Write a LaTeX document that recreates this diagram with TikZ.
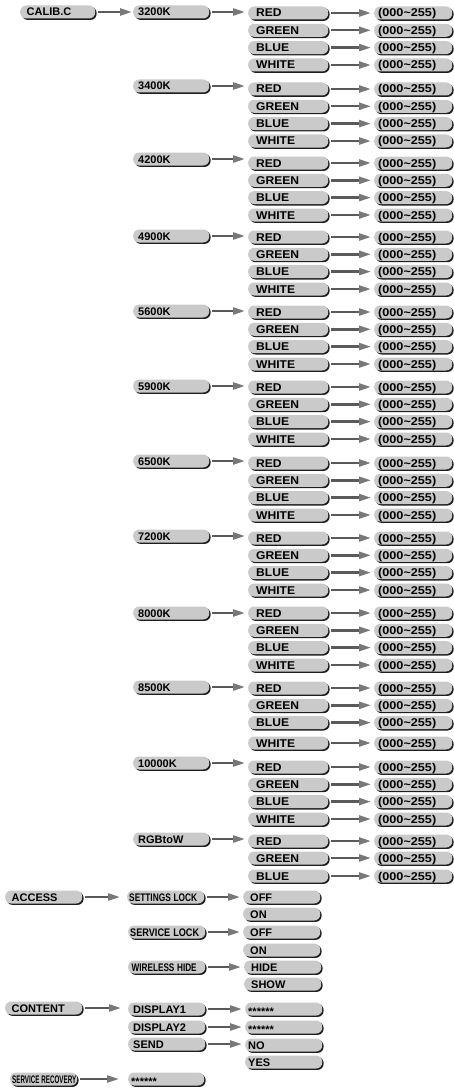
\documentclass[tikz,border=0pt]{standalone}
\usepackage{fontspec}
\usepackage{graphicx}
\usetikzlibrary{shadows,arrows.meta}
\newfontfamily\tfont{Liberation Sans}
\newfontfamily\cfont{Liberation Sans}[FakeStretch=1.07]
\newfontfamily\vfont{Liberation Sans}[FakeStretch=1.12]
\definecolor{boxgray}{HTML}{CACACA}
\definecolor{shadowc}{HTML}{1E1E1E}
\definecolor{arrline}{HTML}{5A5A5A}
\definecolor{arrhead}{HTML}{787878}
\newcommand{\cond}[2]{\resizebox{#1}{\height}{#2}}
\newcommand{\stars}{\raisebox{-2pt}{******}}
\tikzset{
  btn/.style={rectangle, rounded corners=6pt, fill=boxgray, inner ysep=1.5pt,
    text height=9pt, text depth=1pt, anchor=west, align=left,
    drop shadow={shadow xshift=1.4pt, shadow yshift=-1.4pt, opacity=1, fill=shadowc}},
  f11/.style={font=\tfont\bfseries\fontsize{11}{11}\selectfont},
  topbox/.style={btn, f11, text width=62pt, inner xsep=6.5pt},
  temp/.style={btn, f11, text width=66pt, inner xsep=5pt},
  col/.style={btn, text width=64pt, inner xsep=8pt, font=\cfont\bfseries\fontsize{11.3}{11}\selectfont},
  val/.style={btn, text width=70pt, inner xsep=4pt, font=\vfont\bfseries\fontsize{11.3}{11}\selectfont},
  lowmain/.style={btn, f11, text width=64pt, inner xsep=6.5pt},
  sub/.style={btn, text width=73pt, inner xsep=2pt, font=\tfont\bfseries\fontsize{11}{11}\selectfont},
  disp/.style={btn, f11, text width=67pt, inner xsep=5pt},
  opt/.style={btn, f11, text width=63pt, inner xsep=7pt},
  opttwo/.style={btn, f11, text width=71pt, inner xsep=3pt},
  arr/.style={draw=arrline, line width=2.4pt, -{Triangle[length=12pt,width=7pt,color=arrhead]},
    shorten <=3pt, shorten >=3pt},
}
\begin{document}
\begin{tikzpicture}[x=1pt,y=-1pt]
\useasboundingbox (0,0) rectangle (454,1089);
% top
\node[topbox] (calib) at (20,12) {CALIB.C};
\foreach \g/\lab/\ty/\y/\w in {1/3200K/12/13/52, 2/3400K/86/89/52, 3/4200K/159/163/52,
  4/4900K/236/237/52, 5/5600K/311/312/52, 6/5900K/386/387/52, 7/6500K/461/463/52,
  8/7200K/536/538/52, 9/8000K/613/613/52, 10/8500K/687/688/55, 11/10000K/763/767/52}{
  \node[temp] (t\g) at (133,\ty) {\lab};
  \foreach \i/\c/\dy in {1/RED/0, 2/GREEN/17.3, 3/BLUE/34.6, 4/WHITE/\w}{
    \node[col] (c\g-\i) at (248,\y+\dy) {\c};
    \node[val] (v\g-\i) at (374,\y+\dy) {(000\textasciitilde255)};
    \draw[arr] (c\g-\i.east) -- (v\g-\i.west);
  }
  \draw[arr] (t\g.east) -- (t\g.east -| c\g-1.west);
}
\node[temp] (t12) at (133,839) {RGBtoW};
\foreach \i/\c/\dy in {1/RED/0, 2/GREEN/17, 3/BLUE/35}{
  \node[col] (c12-\i) at (248,841+\dy) {\c};
  \node[val] (v12-\i) at (374,841+\dy) {(000\textasciitilde255)};
  \draw[arr] (c12-\i.east) -- (v12-\i.west);
}
\draw[arr] (t12.east) -- (t12.east -| c12-1.west);
\draw[arr, shorten >=1pt] (calib.east) -- (t1.west);
% access
\node[lowmain] (access) at (5,897) {ACCESS};
\node[sub] (slock) at (127,897) {\cond{68pt}{SETTINGS LOCK}};
\node[opt] (soff) at (243,897) {OFF};
\node[opt] (son) at (243,914) {ON};
\node[sub] (svlock) at (128,932) {\cond{69pt}{SERVICE LOCK}};
\node[opt] (svoff) at (243,932) {OFF};
\node[opt] (svon) at (243,950) {ON};
\node[sub] (whide) at (128,967) {\hspace*{1.5pt}\cond{65pt}{WIRELESS HIDE}};
\node[opt] (hide) at (244,967) {HIDE};
\node[opt] (show) at (244,984) {SHOW};
\draw[arr, shorten >=7pt] (access.east) -- (slock.west);
\draw[arr] (slock.east) -- (soff.west);
\draw[arr] (svlock.east) -- (svoff.west);
\draw[arr] (whide.east) -- (hide.west);
% content
\node[lowmain] (content) at (5,1008) {CONTENT};
\node[disp] (d1) at (128,1009) {DISPLAY1};
\node[opttwo] (d1s) at (245,1009) {\stars};
\node[disp] (d2) at (128,1027) {DISPLAY2};
\node[opttwo] (d2s) at (245,1027) {\stars};
\node[disp] (send) at (128,1044) {SEND};
\node[opttwo] (no) at (245,1045) {NO};
\node[opttwo] (yes) at (245,1062) {YES};
\draw[arr, shorten >=7pt] (content.east) -- (content.east -| d1.west);
\draw[arr] (d1.east) -- (d1s.west);
\draw[arr] (d2.east) -- (d2s.west);
\draw[arr] (send.east) -- (send.east -| no.west);
% service recovery
\node[sub, text width=63pt] (srec) at (10,1079) {\cond{64pt}{SERVICE RECOVERY}};
\node[opttwo, text width=70pt] (srecs) at (128,1079) {\stars};
\draw[arr, shorten >=9pt] (srec.east) -- (srecs.west);
\end{tikzpicture}
\end{document}
